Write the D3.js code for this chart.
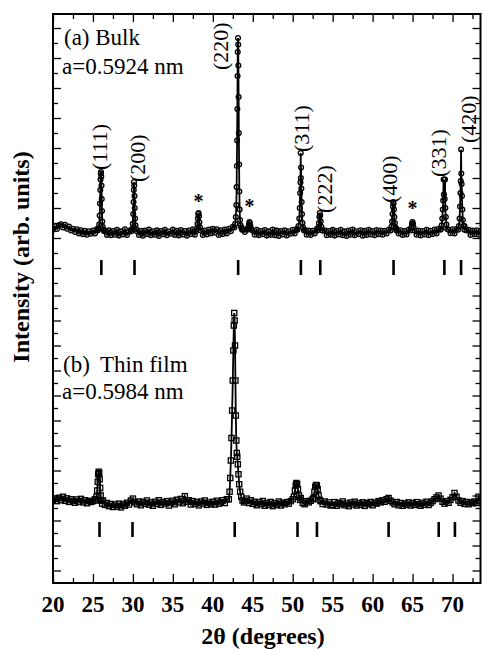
<!DOCTYPE html>
<html>
<head>
<meta charset="utf-8">
<script src="https://cdn.jsdelivr.net/npm/d3@7"></script>
<style>
  html, body { margin: 0; padding: 0; background: #fff; }
</style>
</head>
<body>
<div id="chart"></div>
<script>
// XRD patterns: (a) bulk, (b) thin film. Baseline scan every 0.25 deg from 20 deg,
// peak regions given as finer [2theta, intensity] pairs (arb. units, per panel).

const scanStart = 20, scanStep = 0.25;

const bulkBase = [
  4.55, 4.78, 4.60, 4.85, 4.92, 4.70, 4.88, 4.62, 4.76, 4.50, 4.62, 4.40, 4.58, 4.30, 4.52, 4.25, 4.48, 4.22, 4.45, 4.28,
  4.50, 4.30, 4.60, 4.90, 5.00, 4.70, 4.50, 4.20, 4.52, 4.18, 4.47, 4.22, 4.55, 4.16, 4.44, 4.24, 4.58, 4.20, 4.42, 4.55,
  4.90, 4.80, 4.55, 4.20, 4.48, 4.15, 4.50, 4.26, 4.56, 4.18, 4.45, 4.22, 4.52, 4.14, 4.47, 4.25, 4.55, 4.19, 4.43, 4.28,
  4.56, 4.20, 4.48, 4.17, 4.53, 4.24, 4.46, 4.15, 4.50, 4.27, 4.58, 4.22, 4.90, 5.10, 4.60, 4.20, 4.50, 4.24, 4.56, 4.30,
  4.62, 4.35, 4.58, 4.20, 4.52, 4.26, 4.57, 4.30, 4.62, 4.45, 4.75, 5.20, 8.00, 6.00, 4.90, 4.55, 4.40, 4.62, 4.80, 4.70,
  4.48, 4.22, 4.55, 4.18, 4.47, 4.25, 4.53, 4.16, 4.44, 4.21, 4.56, 4.19, 4.49, 4.14, 4.46, 4.24, 4.52, 4.17, 4.45, 4.28,
  4.55, 4.30, 4.60, 5.00, 6.00, 5.00, 4.55, 4.22, 4.50, 4.20, 4.48, 4.30, 4.60, 5.00, 4.90, 4.50, 4.52, 4.18, 4.46, 4.21,
  4.54, 4.16, 4.47, 4.23, 4.55, 4.18, 4.44, 4.14, 4.50, 4.22, 4.57, 4.19, 4.45, 4.26, 4.52, 4.15, 4.48, 4.20, 4.55, 4.24,
  4.46, 4.18, 4.53, 4.25, 4.50, 4.22, 4.48, 4.30, 4.55, 5.00, 6.00, 5.20, 4.60, 4.30, 4.52, 4.20, 4.47, 4.24, 4.55, 4.70,
  4.90, 4.55, 4.22, 4.50, 4.17, 4.46, 4.24, 4.55, 4.19, 4.48, 4.26, 4.57, 4.30, 4.62, 4.55, 5.00, 6.00, 5.00, 4.55, 4.32,
  4.58, 4.30, 4.60, 5.20, 7.00, 5.80, 4.80, 4.50, 4.55, 4.20, 4.50, 4.25, 4.52, 4.22, 4.45
];

const filmBase = [
  6.60, 6.75, 6.55, 6.82, 6.64, 6.90, 6.58, 6.77, 6.49, 6.70, 6.56, 6.42, 6.68, 6.51, 6.73, 6.45, 6.62, 6.38, 6.57, 6.48,
  6.55, 6.70, 6.90, 7.50, 7.00, 6.60, 6.25, 6.40, 6.15, 6.32, 6.08, 6.27, 6.12, 6.35, 6.05, 6.30, 6.18, 6.42, 6.28, 6.60,
  6.75, 6.45, 6.30, 6.52, 6.22, 6.48, 6.35, 6.60, 6.27, 6.44, 6.18, 6.50, 6.33, 6.62, 6.25, 6.47, 6.36, 6.55, 6.20, 6.43,
  6.58, 6.30, 6.66, 6.45, 6.72, 6.38, 6.95, 6.50, 6.62, 6.28, 6.55, 6.33, 6.47, 6.21, 6.52, 6.36, 6.60, 6.25, 6.44, 6.31,
  6.50, 6.27, 6.58, 6.35, 6.46, 6.62, 6.40, 6.70, 6.90, 7.50, 10.0, 14.0, 10.0, 8.00, 7.20, 6.80, 6.55, 6.75, 6.40, 6.62,
  6.33, 6.50, 6.22, 6.45, 6.30, 6.56, 6.18, 6.40, 6.27, 6.48, 6.15, 6.38, 6.25, 6.52, 6.20, 6.42, 6.30, 6.47, 6.35, 6.55,
  6.70, 7.30, 7.90, 7.40, 6.80, 6.40, 6.30, 6.55, 6.45, 6.58, 6.70, 7.30, 7.80, 7.30, 6.55, 6.32, 6.52, 6.28, 6.45, 6.20,
  6.25, 6.47, 6.18, 6.40, 6.30, 6.52, 6.22, 6.36, 6.15, 6.44, 6.28, 6.50, 6.20, 6.38, 6.26, 6.45, 6.17, 6.40, 6.30, 6.48,
  6.22, 6.43, 6.35, 6.55, 6.45, 6.62, 6.50, 6.70, 6.80, 6.58, 6.45, 6.30, 6.48, 6.22, 6.40, 6.18, 6.36, 6.27, 6.45, 6.20,
  6.38, 6.25, 6.47, 6.30, 6.18, 6.42, 6.28, 6.50, 6.24, 6.40, 6.55, 6.70, 6.85, 7.00, 6.75, 6.50, 6.35, 6.55, 6.42, 6.65,
  6.85, 7.20, 6.90, 6.60, 6.42, 6.55, 6.33, 6.48, 6.30, 6.45, 6.38, 6.52, 6.40, 6.90, 6.55
];

const bulkPeaks = [
  [[25.60,4.50],[25.70,4.62],[25.78,4.90],[25.84,5.50],[25.88,6.30],[25.92,7.20],[25.95,7.90],[25.98,8.30],[26.01,8.40],[26.04,8.10],[26.07,7.50],[26.10,6.60],[26.13,5.80],[26.17,5.10],[26.22,4.75],[26.30,4.55],[26.40,4.45]],
  [[29.80,4.45],[29.90,4.60],[29.98,4.95],[30.04,5.60],[30.08,6.40],[30.11,7.20],[30.14,7.73],[30.17,7.50],[30.20,6.80],[30.23,6.00],[30.27,5.30],[30.32,4.85],[30.40,4.60],[30.50,4.45]],
  [[37.90,4.45],[38.00,4.60],[38.08,4.95],[38.13,5.30],[38.18,5.60],[38.22,5.67],[38.27,5.45],[38.32,5.05],[38.40,4.70],[38.50,4.50]],
  [[42.70,4.70],[42.80,4.95],[42.88,5.40],[42.94,6.20],[42.98,7.40],[43.01,8.80],[43.04,10.5],[43.07,12.6],[43.10,14.8],[43.12,16.4],[43.15,17.33],[43.18,16.9],[43.20,15.5],[43.23,13.4],[43.26,11.0],[43.29,8.90],[43.32,7.10],[43.36,5.90],[43.41,5.20],[43.48,4.85],[43.56,4.70],[43.66,4.55]],
  [[44.35,4.55],[44.45,4.70],[44.52,4.90],[44.58,5.07],[44.64,5.00],[44.70,4.80],[44.80,4.60]],
  [[50.60,4.55],[50.72,4.80],[50.82,5.30],[50.88,6.00],[50.93,7.00],[50.97,7.70],[51.00,9.67],[51.02,8.00],[51.05,8.70],[51.08,7.30],[51.12,6.40],[51.16,5.60],[51.22,5.00],[51.30,4.70],[51.42,4.50]],
  [[53.10,4.50],[53.20,4.70],[53.28,5.00],[53.34,5.40],[53.39,5.67],[53.44,5.50],[53.50,5.10],[53.58,4.75],[53.70,4.50]],
  [[62.25,4.50],[62.35,4.75],[62.43,5.10],[62.49,5.60],[62.54,6.10],[62.58,6.40],[62.62,6.30],[62.67,5.90],[62.72,5.40],[62.78,5.00],[62.86,4.70],[62.98,4.50]],
  [[64.75,4.50],[64.85,4.70],[64.93,4.95],[64.99,5.07],[65.05,4.95],[65.13,4.70],[65.25,4.50]],
  [[68.55,4.60],[68.65,4.85],[68.72,5.30],[68.78,5.90],[68.83,6.50],[68.88,7.90],[68.92,6.90],[68.97,7.90],[69.02,6.60],[69.06,7.90],[69.10,6.00],[69.16,5.40],[69.24,4.90],[69.34,4.60]],
  [[70.70,4.55],[70.80,4.80],[70.88,5.30],[70.94,6.10],[70.99,7.00],[71.03,7.80],[71.07,9.90],[71.10,8.30],[71.14,7.60],[71.18,6.80],[71.23,5.90],[71.29,5.20],[71.37,4.80],[71.48,4.55]]
];

const filmPeaks = [
  [[25.35,6.60],[25.45,6.90],[25.53,7.40],[25.60,8.10],[25.66,8.70],[25.72,8.90],[25.78,8.80],[25.84,8.30],[25.90,7.60],[25.97,7.00],[26.05,6.60],[26.15,6.35]],
  [[42.00,6.70],[42.10,7.30],[42.18,8.40],[42.26,9.80],[42.34,11.6],[42.42,13.8],[42.50,16.2],[42.57,18.6],[42.63,20.6],[42.68,21.6],[42.73,21.0],[42.78,19.0],[42.83,16.2],[42.88,13.4],[42.94,11.4],[43.00,10.4],[43.06,10.1],[43.13,9.50],[43.21,8.70],[43.30,7.90],[43.42,7.30],[43.56,6.90],[43.72,6.60],[43.90,6.45]],
  [[50.15,6.90],[50.28,7.40],[50.38,7.80],[50.46,8.00],[50.55,7.90],[50.65,7.50],[50.78,7.00],[50.92,6.65]],
  [[52.60,6.80],[52.72,7.30],[52.82,7.70],[52.92,7.84],[53.02,7.80],[53.12,7.50],[53.24,7.00],[53.38,6.65]]
];

// Bragg reflection markers
const bulkRefl = [26.05, 30.20, 43.17, 51.02, 53.45, 62.62, 68.98, 71.07];
const filmRefl = [25.82, 29.95, 42.74, 50.60, 53.03, 62.00, 68.27, 70.30];

// hkl labels: [2theta of label centre, intensity at label foot] in bulk panel units
const hklNames = ['(111)', '(200)', '(220)', '(311)', '(222)', '(400)', '(331)', '(420)'];
const hklAt = [[25.82, 8.53], [30.58, 7.73], [40.90, 15.2], [51.10, 9.73], [53.92, 5.67], [62.05, 6.33], [68.25, 8.07], [72.06, 10.33]];
// impurity peaks marked with *
const starAt = [[38.2, 6.67], [44.6, 6.33], [65.0, 6.2]];

const xTickLabels = [20, 25, 30, 35, 40, 45, 50, 55, 60, 65, 70];

// ── Layout ─────────────────────────────────────────────────────
const W = 484, H = 649;
const L = 53, R = 480.5, T = 14, B = 583;
const SERIF = '"Liberation Serif"';

const svg = d3.select('#chart').append('svg').attr('width', W).attr('height', H)
  .attr('xmlns', 'http://www.w3.org/2000/svg');

const x = d3.scaleLinear().domain([20, 73.5]).range([L, R]);
const yTop = d3.scaleLinear().domain([0, 19]).range([298, 13]);
const yBot = d3.scaleLinear().domain([0, 23.5]).range([B, 289.25]);

svg.append('defs').append('clipPath').attr('id', 'plot')
  .append('rect').attr('x', L).attr('y', T).attr('width', R - L).attr('height', B - T);

function buildScan(base, peaks) {
  const pts = [];
  base.forEach((v, i) => {
    const t = scanStart + i * scanStep;
    if (!peaks.some(p => t >= p[0][0] && t <= p[p.length - 1][0])) pts.push([t, v]);
  });
  peaks.forEach(p => p.forEach(d => pts.push(d)));
  return pts.sort((a, b) => a[0] - b[0]);
}

const bulk = buildScan(bulkBase, bulkPeaks);
const film = buildScan(filmBase, filmPeaks);

const data = svg.append('g').attr('clip-path', 'url(#plot)');

// ── Bulk pattern: line + open circles ─────────────────────────
const lineTop = d3.line().x(d => x(d[0])).y(d => yTop(d[1]));
data.append('path').datum(bulk).attr('d', lineTop)
  .attr('fill', 'none').attr('stroke', '#000').attr('stroke-width', 1.8);
data.append('g').selectAll('circle').data(bulk).enter().append('circle')
  .attr('cx', d => x(d[0])).attr('cy', d => yTop(d[1])).attr('r', 2.4)
  .attr('fill', 'none').attr('stroke', '#000').attr('stroke-width', 1.3);

// ── Film pattern: line + open squares ─────────────────────────
const lineBot = d3.line().x(d => x(d[0])).y(d => yBot(d[1]));
data.append('path').datum(film).attr('d', lineBot)
  .attr('fill', 'none').attr('stroke', '#000').attr('stroke-width', 1.8);
data.append('g').selectAll('rect').data(film).enter().append('rect')
  .attr('x', d => x(d[0]) - 2.6).attr('y', d => yBot(d[1]) - 2.6)
  .attr('width', 5.2).attr('height', 5.2)
  .attr('fill', 'none').attr('stroke', '#000').attr('stroke-width', 1.3);

// ── Bragg markers ─────────────────────────────────────────────
data.append('g').selectAll('line').data(bulkRefl).enter().append('line')
  .attr('x1', d => x(d)).attr('x2', d => x(d))
  .attr('y1', yTop(2.53)).attr('y2', yTop(1.53))
  .attr('stroke', '#000').attr('stroke-width', 2.6);
data.append('g').selectAll('line').data(filmRefl).enter().append('line')
  .attr('x1', d => x(d)).attr('x2', d => x(d))
  .attr('y1', yBot(4.88)).attr('y2', yBot(3.68))
  .attr('stroke', '#000').attr('stroke-width', 2.6);

// ── hkl labels and impurity stars ─────────────────────────────
svg.append('g').selectAll('text').data(hklNames).enter().append('text')
  .attr('transform', (d, i) => `translate(${x(hklAt[i][0]) + 7.5},${yTop(hklAt[i][1])}) rotate(-90)`)
  .attr('font-size', 22).attr('fill', '#000').style('font-family', SERIF).text(d => d);

svg.append('g').selectAll('text').data(starAt).enter().append('text')
  .attr('x', d => x(d[0])).attr('y', d => yTop(d[1]) + 10)
  .attr('text-anchor', 'middle').attr('font-size', 20).attr('font-weight', 'bold')
  .style('font-family', SERIF).text('*');

// ── Axes (inward ticks on all four sides) ─────────────────────
const xMinor = xTickLabels.map(t => t + 2.5);
const topTicks = d3.range(1, 19), botTicks = d3.range(1, 24);

function ticks(axis, at, vals, len) {
  svg.append('g').attr('transform', at)
    .call(axis.tickValues(vals).tickSize(-len).tickFormat(''))
    .call(g => { g.select('.domain').remove(); g.selectAll('line').attr('stroke', '#000').attr('stroke-width', 1.3); });
}

ticks(d3.axisBottom(x), `translate(0,${B})`, xTickLabels, 9);
ticks(d3.axisBottom(x), `translate(0,${B})`, xMinor, 5);
ticks(d3.axisTop(x), `translate(0,${T})`, xTickLabels, 8);
ticks(d3.axisTop(x), `translate(0,${T})`, xMinor, 5);

ticks(d3.axisLeft(yTop), `translate(${L},0)`, topTicks.filter(v => v % 2 === 0), 8);
ticks(d3.axisLeft(yTop), `translate(${L},0)`, topTicks.filter(v => v % 2 === 1), 5);
ticks(d3.axisLeft(yBot), `translate(${L},0)`, botTicks.filter(v => v % 2 === 1), 8);
ticks(d3.axisLeft(yBot), `translate(${L},0)`, botTicks.filter(v => v % 2 === 0), 5);
ticks(d3.axisRight(yTop), `translate(${R},0)`, topTicks.filter(v => v % 2 === 0), 8);
ticks(d3.axisRight(yTop), `translate(${R},0)`, topTicks.filter(v => v % 2 === 1), 5);
ticks(d3.axisRight(yBot), `translate(${R},0)`, botTicks.filter(v => v % 2 === 1), 8);
ticks(d3.axisRight(yBot), `translate(${R},0)`, botTicks.filter(v => v % 2 === 0), 5);

// x tick labels
svg.append('g').selectAll('text').data(xTickLabels).enter().append('text')
  .attr('x', d => x(d)).attr('y', 612)
  .attr('text-anchor', 'middle').attr('font-size', 23).attr('font-weight', 'bold')
  .style('font-family', SERIF).text(d => d);

// frame
svg.append('rect').attr('x', L).attr('y', T).attr('width', R - L).attr('height', B - T)
  .attr('fill', 'none').attr('stroke', '#000').attr('stroke-width', 2);

// ── Titles and panel notes ────────────────────────────────────
svg.append('text').attr('x', 263).attr('y', 644).attr('text-anchor', 'middle')
  .attr('font-size', 24).attr('font-weight', 'bold').style('font-family', SERIF).text('2θ (degrees)');
svg.append('text').attr('transform', 'translate(29,257) rotate(-90)').attr('text-anchor', 'middle')
  .attr('font-size', 24).attr('font-weight', 'bold').style('font-family', SERIF).text('Intensity (arb. units)');

const note = (tx, ty, s) => svg.append('text').attr('x', tx).attr('y', ty).attr('font-size', 23)
  .style('font-family', SERIF).text(s);
note(64, 45, '(a) Bulk');
note(62, 74, 'a=0.5924 nm');
note(63, 372, '(b)');
note(100, 372, 'Thin film');
note(62, 399, 'a=0.5984 nm');
</script>
</body>
</html>
